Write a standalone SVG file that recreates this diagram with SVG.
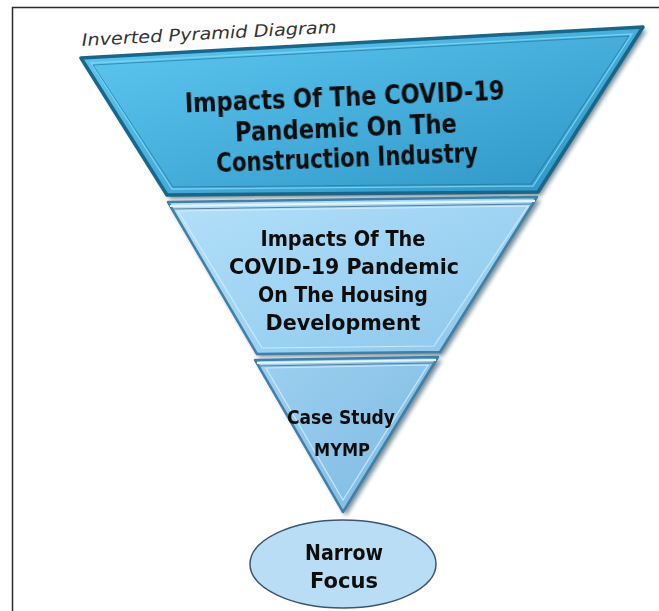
<svg xmlns="http://www.w3.org/2000/svg" width="659" height="611" viewBox="0 0 659 611">
  <defs>
    <linearGradient id="g1" x1="0" y1="0" x2="1" y2="1">
      <stop offset="0" stop-color="#5fc9f3"/>
      <stop offset="1" stop-color="#2c94c4"/>
    </linearGradient>
    <linearGradient id="g2" x1="0" y1="0" x2="1" y2="1">
      <stop offset="0" stop-color="#b2e0f9"/>
      <stop offset="1" stop-color="#8cc7ec"/>
    </linearGradient>
    <linearGradient id="g3" x1="0" y1="0" x2="1" y2="1">
      <stop offset="0" stop-color="#9dd0f0"/>
      <stop offset="1" stop-color="#7db9e2"/>
    </linearGradient>
    <filter id="sh" x="-10%" y="-10%" width="120%" height="120%">
      <feGaussianBlur stdDeviation="2"/>
    </filter>
    <filter id="soft" x="-5%" y="-20%" width="110%" height="140%">
      <feGaussianBlur stdDeviation="0.35"/>
    </filter>
  </defs>
  <style>
    .frame { fill: #ffffff; stroke: #2a2a2a; stroke-width: 1.5; }
    .shadow { fill: #0d3447; opacity: 0.55; filter: url(#sh); }
    .t1 { font-family: "DejaVu Sans", "Liberation Sans", sans-serif; font-weight: bold; fill: #111; text-anchor: middle; }
    .cap { font-family: "DejaVu Sans", "Liberation Sans", sans-serif; font-style: italic; fill: #333; font-size: 17px; }
  </style>

  <rect class="frame" x="12.5" y="7.5" width="700" height="700"/>

  <text class="cap" x="82" y="46" transform="rotate(-3 82 46)" textLength="255" lengthAdjust="spacingAndGlyphs">Inverted Pyramid Diagram</text>

  <g id="layer1">
    <polygon class="shadow" points="84,61 647,30 541,196 170,199"/>
    <polygon points="81,58 643,27 538,192 167,195" fill="url(#g1)" stroke="#1a6688" stroke-width="3.5" stroke-linejoin="round"/>
    <polygon points="91,63 632,34 533,186 172,189" fill="none" stroke="#7ed6f6" stroke-width="1.3" opacity="0.85"/>
    <polygon points="93,65 629,36 531,184 173,187" fill="none" stroke="#1d6f93" stroke-width="1" opacity="0.6"/>
    <g transform="rotate(-2.3 346 130)" filter="url(#soft)">
      <text class="t1" x="346" y="106" font-size="26.5" textLength="320" lengthAdjust="spacingAndGlyphs">Impacts Of The COVID-19</text>
      <text class="t1" x="346" y="137" font-size="26.5" textLength="222" lengthAdjust="spacingAndGlyphs">Pandemic On The</text>
      <text class="t1" x="346" y="167" font-size="26.5" textLength="262" lengthAdjust="spacingAndGlyphs">Construction Industry</text>
    </g>
  </g>

  <g id="layer2">
    <polygon class="shadow" points="170,205 541,200 443,356 259,357"/>
    <polygon points="168,202 537,197 440,352 257,354" fill="url(#g2)" stroke="#3f7fa8" stroke-width="2.5" stroke-linejoin="round"/>
    <line x1="170" y1="206" x2="535" y2="201" stroke="#e4f4fc" stroke-width="2"/>
    <line x1="172" y1="209" x2="533" y2="204" stroke="#56809c" stroke-width="1"/>
    <polygon points="178,211 528,206 434,346 262,348" fill="none" stroke="#d6effc" stroke-width="1.2" opacity="0.8"/>
    <g filter="url(#soft)">
      <text class="t1" x="343" y="246" font-size="21.5" textLength="165" lengthAdjust="spacingAndGlyphs">Impacts Of The</text>
      <text class="t1" x="344" y="274" font-size="21.5" textLength="230" lengthAdjust="spacingAndGlyphs">COVID-19 Pandemic</text>
      <text class="t1" x="343" y="302" font-size="21.5" textLength="170" lengthAdjust="spacingAndGlyphs">On The Housing</text>
      <text class="t1" x="343" y="330" font-size="21.5" textLength="155" lengthAdjust="spacingAndGlyphs">Development</text>
    </g>
  </g>

  <g id="layer3">
    <polygon class="shadow" points="258,363 442,360 346,516"/>
    <polygon points="255,360 438,357 343,512" fill="url(#g3)" stroke="#3f7fa8" stroke-width="2.5" stroke-linejoin="round"/>
    <line x1="257" y1="363" x2="436" y2="360" stroke="#e4f4fc" stroke-width="2"/>
    <line x1="259" y1="366" x2="434" y2="363" stroke="#56809c" stroke-width="1"/>
    <polygon points="266,368 428,365 343,500" fill="none" stroke="#d6effc" stroke-width="1.2" opacity="0.8"/>
    <g filter="url(#soft)">
      <text class="t1" x="341" y="424" font-size="19.5" textLength="108" lengthAdjust="spacingAndGlyphs">Case Study</text>
      <text class="t1" x="342" y="456" font-size="18" textLength="56" lengthAdjust="spacingAndGlyphs">MYMP</text>
    </g>
  </g>

  <g id="focus">
    <ellipse cx="343" cy="564" rx="93" ry="44" fill="#b8ddf4" stroke="#3d5670" stroke-width="1.5"/>
    <g filter="url(#soft)">
      <text class="t1" x="344" y="560" font-size="21" textLength="78" lengthAdjust="spacingAndGlyphs">Narrow</text>
      <text class="t1" x="344" y="588" font-size="21" textLength="68" lengthAdjust="spacingAndGlyphs">Focus</text>
    </g>
  </g>
</svg>
